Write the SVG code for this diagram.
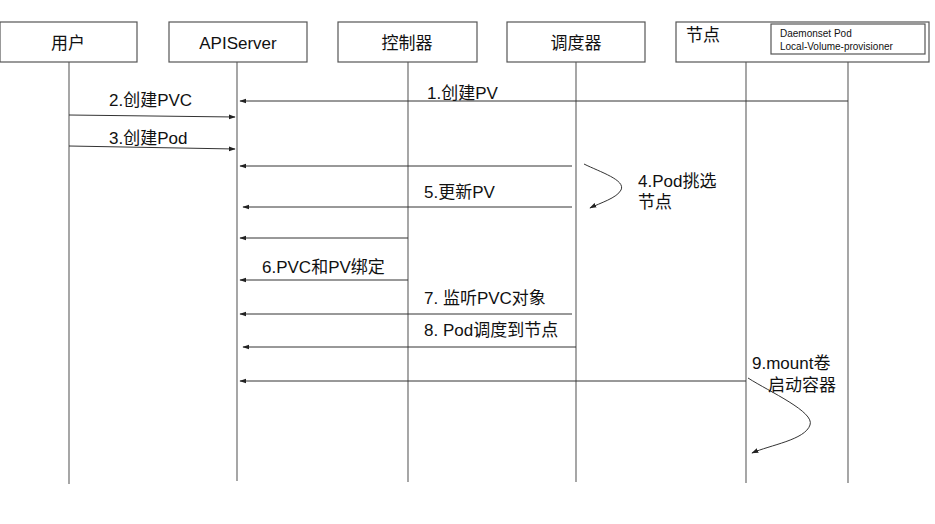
<svg xmlns="http://www.w3.org/2000/svg" width="935" height="524" viewBox="0 0 935 524">
<style>
.box{fill:#fff;stroke:#555;stroke-width:1.2}
.life{stroke:#777;stroke-width:1.3;fill:none}
.msg{stroke:#333;stroke-width:1;fill:none;marker-end:url(#ah)}
.t{font-family:"Liberation Sans","Noto Sans CJK SC",sans-serif;fill:#111}
.title{font-size:17px}
.lbl{font-size:17px}
.small{font-size:10px}
</style>
<defs>
<marker id="ah" viewBox="0 0 10 10" refX="9" refY="5" markerWidth="7" markerHeight="7" orient="auto" markerUnits="userSpaceOnUse">
<path d="M0,1.5 L10,5 L0,8.5 z" fill="#222"/>
</marker>
</defs>
<rect width="935" height="524" fill="#fff"/>
<g id="lifelines">
<line class="life" x1="69" y1="62" x2="69" y2="484"/>
<line class="life" x1="237" y1="62" x2="237" y2="481"/>
<line class="life" x1="408" y1="62" x2="408" y2="482"/>
<line class="life" x1="576" y1="62" x2="576" y2="482"/>
<line class="life" x1="746" y1="62" x2="746" y2="483"/>
<line class="life" x1="848" y1="54" x2="848" y2="483"/>
</g>
<g id="node-user">
<rect class="box" x="0" y="22" width="137" height="40"/>
<text class="t title" x="68" y="49" text-anchor="middle">用户</text>
</g>
<g id="node-apiserver">
<rect class="box" x="169" y="22" width="138" height="40"/>
<text class="t title" x="238" y="49" text-anchor="middle">APIServer</text>
</g>
<g id="node-controller">
<rect class="box" x="338" y="22" width="139" height="40"/>
<text class="t title" x="407" y="49" text-anchor="middle">控制器</text>
</g>
<g id="node-scheduler">
<rect class="box" x="507" y="22" width="138" height="40"/>
<text class="t title" x="576" y="49" text-anchor="middle">调度器</text>
</g>
<g id="node-node">
<rect class="box" x="676" y="22" width="253" height="40"/>
<text class="t title" x="686" y="41">节点</text>
</g>
<g id="node-daemonset">
<rect class="box" x="771" y="24" width="154" height="30"/>
<text class="t small" x="780" y="37">Daemonset Pod</text>
<text class="t small" x="780" y="50">Local-Volume-provisioner</text>
</g>
<g id="connectors">
<line class="msg" x1="848" y1="101" x2="240" y2="101"/>
<line class="msg" x1="69" y1="115" x2="235" y2="117"/>
<line class="msg" x1="69" y1="146" x2="235" y2="149"/>
<line class="msg" x1="572" y1="166" x2="240" y2="166"/>
<line class="msg" x1="572" y1="207" x2="243" y2="207"/>
<path class="msg" d="M584,164 C600,172 626,180 621,190 C617,198 600,203 590,208"/>
<line class="msg" x1="408" y1="238" x2="240" y2="238"/>
<line class="msg" x1="408" y1="280" x2="240" y2="280"/>
<line class="msg" x1="572" y1="314" x2="240" y2="314"/>
<line class="msg" x1="576" y1="347" x2="243" y2="347"/>
<line class="msg" x1="746" y1="381" x2="240" y2="381"/>
<path class="msg" d="M748,378 C770,392 815,412 810,425 C805,440 770,445 752,453"/>
</g>
<g id="labels">
<text class="t lbl" x="427" y="99">1.创建PV</text>
<text class="t lbl" x="109" y="106">2.创建PVC</text>
<text class="t lbl" x="109" y="144">3.创建Pod</text>
<text class="t lbl" x="638" y="187">4.Pod挑选</text>
<text class="t lbl" x="638" y="208">节点</text>
<text class="t lbl" x="424" y="198">5.更新PV</text>
<text class="t lbl" x="262" y="273">6.PVC和PV绑定</text>
<text class="t lbl" x="424" y="304">7. 监听PVC对象</text>
<text class="t lbl" x="424" y="336">8. Pod调度到节点</text>
<text class="t lbl" x="752" y="369">9.mount卷</text>
<text class="t lbl" x="768" y="391">启动容器</text>
</g>
</svg>
